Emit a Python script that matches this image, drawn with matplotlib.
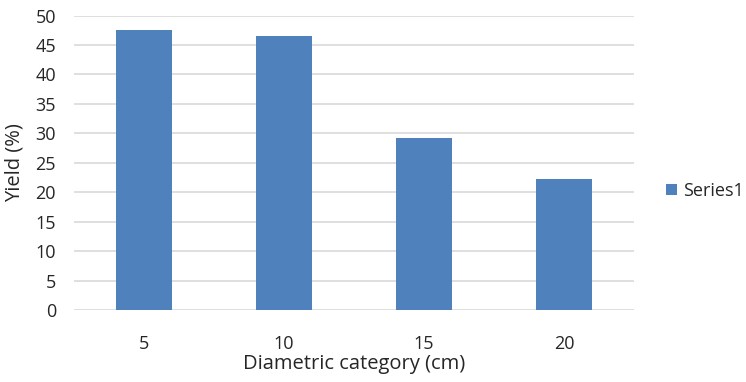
import matplotlib.pyplot as plt

categories = ['5', '10', '15', '20']
yield_pct = [47.5, 46.6, 29.2, 22.3]
yticks = list(range(0, 55, 5))

plt.rcParams['font.family'] = ['Open Sans', 'DejaVu Sans']

fig = plt.figure(figsize=(7.46, 3.82), dpi=100)
ax = fig.add_axes([0.0992, 0.1885, 0.7507, 0.7709])

x = range(len(categories))
ax.bar(x, yield_pct, width=0.4, color='#4f81bd', label='Series1', zorder=3)

ax.set_xlim(-0.5, len(categories) - 0.5)
ax.set_ylim(0, 50)
ax.set_xticks(list(x))
ax.set_xticklabels(categories)
ax.set_yticks(yticks)
ax.grid(axis='y', color='#d9d9d9', linewidth=1.2, zorder=0)
for s in ax.spines.values():
    s.set_visible(False)
ax.tick_params(length=0, labelsize=13, colors='#262626')
ax.tick_params(axis='x', pad=18)
ax.tick_params(axis='y', pad=13)

ax.set_xlabel('Diametric category (cm)', fontsize=14.5, color='#262626', labelpad=1)
ax.set_ylabel('Yield (%)', fontsize=14.5, color='#262626', labelpad=8)

fig.legend(loc='center left', bbox_to_anchor=(0.893, 0.5), frameon=False,
           fontsize=13, handlelength=0.62, handleheight=0.62, handletextpad=0.3,
           labelcolor='#262626', borderpad=0, borderaxespad=0)

fig.savefig('out.png', dpi=100)
